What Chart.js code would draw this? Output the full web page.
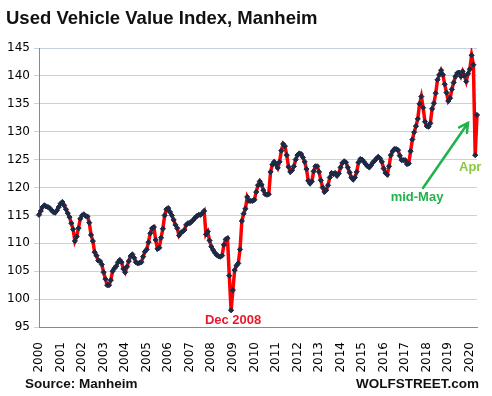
<!DOCTYPE html>
<html>
<head>
<meta charset="utf-8">
<title>Used Vehicle Value Index, Manheim</title>
<script src="https://cdn.jsdelivr.net/npm/chart.js@4.4.1/dist/chart.umd.min.js"></script>
<style>
  html, body { margin: 0; padding: 0; background: #fff; }
  #wrap { width: 492px; height: 396px; }
</style>
</head>
<body>
<div id="wrap"><canvas id="chart" width="492" height="396"></canvas></div>
<script>
  // ---- data ----
  const TITLE = "Used Vehicle Value Index, Manheim";
  const SOURCE = "Source: Manheim";
  const BRAND = "WOLFSTREET.com";

  const years = ["2000", "2001", "2002", "2003", "2004", "2005", "2006", "2007", "2008", "2009",
    "2010", "2011", "2012", "2013", "2014", "2015", "2016", "2017", "2018", "2019", "2020"];

  // monthly index, Jan 2000 .. Apr 2020 (one row per year)
  const monthly = [
    115.1, 115.8, 116.5, 116.8, 116.6, 116.5, 116.3, 115.9, 115.6, 115.5, 115.9, 116.5, // 2000
    117.1, 117.4, 116.8, 116.1, 115.4, 114.7, 113.6, 112.5, 110.4, 111.2, 112.7, 114.4, // 2001
    115.0, 115.2, 114.9, 114.8, 113.7, 111.5, 110.4, 108.4, 107.8, 106.9, 106.8, 106.2, // 2002
    104.8, 103.6, 102.5, 102.5, 103.4, 105.0, 105.5, 105.9, 106.6, 107.0, 106.6, 105.4, // 2003
    104.8, 105.8, 106.8, 107.7, 108.0, 107.4, 106.6, 106.4, 106.5, 106.6, 107.6, 108.5, // 2004
    108.9, 110.2, 111.8, 112.7, 112.9, 110.6, 109.0, 109.2, 111.0, 112.6, 115.0, 116.1, // 2005
    116.3, 115.6, 115.0, 114.2, 113.3, 112.7, 111.4, 111.9, 112.1, 112.4, 113.3, 113.6, // 2006
    113.6, 113.9, 114.2, 114.6, 114.9, 115.1, 115.1, 115.4, 115.8, 111.6, 112.1, 110.5, // 2007
    109.4, 108.8, 108.3, 107.9, 107.7, 107.6, 107.8, 109.7, 110.7, 110.9, 104.2, 98.0,  // 2008
    101.6, 105.2, 106.0, 106.4, 108.9, 114.0, 115.3, 116.2, 118.3, 117.6, 117.6, 117.6, // 2009
    117.8, 119.2, 120.4, 121.1, 120.5, 119.5, 118.8, 118.7, 118.8, 122.8, 124.1, 124.6, // 2010
    124.1, 123.5, 124.6, 126.6, 127.8, 127.4, 125.8, 123.7, 122.8, 123.1, 123.8, 125.0, // 2011
    125.8, 126.1, 126.0, 125.4, 124.6, 123.3, 121.2, 120.7, 121.1, 122.9, 123.8, 123.8, // 2012
    122.8, 121.3, 120.0, 119.2, 119.5, 120.4, 121.8, 122.6, 122.4, 122.6, 122.1, 122.5, // 2013
    123.6, 124.4, 124.7, 124.5, 123.6, 122.7, 121.8, 121.4, 121.8, 122.8, 124.5, 125.1, // 2014
    125.0, 124.6, 124.2, 123.8, 123.6, 124.0, 124.5, 124.8, 125.2, 125.5, 125.2, 124.6, // 2015
    123.4, 122.6, 122.3, 123.8, 125.8, 126.5, 126.9, 126.9, 126.7, 125.7, 124.9, 124.9, // 2016
    124.9, 124.2, 124.3, 126.5, 128.6, 129.9, 131.0, 132.3, 135.0, 136.3, 134.3, 131.8, // 2017
    131.0, 130.9, 131.5, 134.1, 135.1, 136.9, 139.3, 140.2, 141.0, 140.2, 138.5, 137.0, // 2018
    135.5, 136.0, 137.6, 138.8, 139.9, 140.5, 140.6, 139.9, 140.8, 140.0, 139.0, 140.4, // 2019
    141.2, 143.7, 142.0, 125.8                                                          // 2020 Jan-Apr
  ];
  const midMay = 133.0; // mid-May 2020 reading

  const yMin = 95, yMax = 145, yStep = 5;

  // categories: one per month, plus the mid-May point
  const labels = [];
  years.forEach((yr) => { for (let m = 1; m <= 12; m++) labels.push(yr + "-" + String(m).padStart(2, "0")); });
  labels.length = monthly.length;
  labels.push("2020-05-mid");
  const series = monthly.concat([midMay]);

  const RED = "#ff0000", NAVY = "#1b2a47", GRID = "#c6d3e3", AXIS = "#8a8a8a";
  const GREEN = "#22b14c", LIME = "#8cc63f";

  // title, footer and the three callouts, anchored on data points
  const overlay = {
    id: "overlay",
    afterDraw(chart) {
      const { ctx } = chart;
      const xs = chart.scales.x, ys = chart.scales.y;
      const at = (key) => { const i = labels.indexOf(key); return { x: xs.getPixelForValue(i), y: ys.getPixelForValue(series[i]) }; };
      ctx.save();
      ctx.fillStyle = "#111";
      ctx.textBaseline = "alphabetic";
      ctx.textAlign = "left";
      ctx.font = "bold 18.5px 'Liberation Sans', Arial, sans-serif";
      ctx.fillText(TITLE, 6, 24);
      ctx.font = "bold 13.5px 'Liberation Sans', Arial, sans-serif";
      ctx.fillText(SOURCE, 25, 388);
      ctx.textAlign = "right";
      ctx.fillText(BRAND, 479, 388);

      ctx.textAlign = "center";
      ctx.textBaseline = "middle";
      const low = at("2008-12");
      ctx.fillStyle = "#e8192c";
      ctx.font = "bold 13px 'Liberation Sans', Arial, sans-serif";
      ctx.fillText("Dec 2008", low.x + 2, low.y + 10);

      const apr = at("2020-04");
      ctx.fillStyle = LIME;
      ctx.fillText("Apr", apr.x - 5, apr.y + 12);

      const may = at("2020-05-mid");
      ctx.fillStyle = GREEN;
      ctx.fillText("mid-May", may.x - 60, may.y + 82);

      // arrow to the mid-May point
      const tip = { x: may.x - 9, y: may.y + 8 }, tail = { x: may.x - 54, y: may.y + 73 };
      const ang = Math.atan2(tip.y - tail.y, tip.x - tail.x);
      ctx.strokeStyle = GREEN; ctx.lineWidth = 2.5; ctx.lineCap = "round";
      ctx.beginPath();
      ctx.moveTo(tail.x, tail.y); ctx.lineTo(tip.x, tip.y);
      ctx.moveTo(tip.x - 10 * Math.cos(ang - 0.5), tip.y - 10 * Math.sin(ang - 0.5));
      ctx.lineTo(tip.x, tip.y);
      ctx.lineTo(tip.x - 10 * Math.cos(ang + 0.5), tip.y - 10 * Math.sin(ang + 0.5));
      ctx.stroke();
      ctx.restore();
    }
  };

  new Chart(document.getElementById("chart"), {
    type: "line",
    data: {
      labels,
      datasets: [{
        data: series,
        borderColor: RED, borderWidth: 3.5, tension: 0,
        pointStyle: "rectRot", pointRadius: 2.6, pointBorderWidth: 1,
        pointBackgroundColor: NAVY, pointBorderColor: NAVY,
      }],
    },
    options: {
      responsive: false, animation: false,
      layout: { padding: { top: 48, right: 15, bottom: 24, left: 0 } },
      plugins: { legend: { display: false }, tooltip: { enabled: false }, title: { display: false } },
      scales: {
        x: {
          type: "category",
          grid: { display: false },
          border: { display: true, color: AXIS, width: 1 },
          ticks: {
            autoSkip: false, minRotation: 90, maxRotation: 90, padding: 7,
            color: "#000", font: { family: "'DejaVu Sans', sans-serif", size: 12 },
            callback: (v, i) => (i % 12 === 0 ? years[i / 12] : ""),
          },
          afterFit: (s) => { s.height = 45; s.paddingLeft = 0; s.paddingRight = 0; },
        },
        y: {
          min: yMin, max: yMax,
          grid: { color: GRID, lineWidth: 1, tickLength: 5, tickColor: GRID },
          border: { display: true, color: AXIS, width: 1 },
          ticks: {
            stepSize: yStep, padding: 4,
            color: "#000", font: { family: "'DejaVu Sans', sans-serif", size: 12 },
          },
          afterFit: (s) => { s.width = 39; s.paddingTop = 0; s.paddingBottom = 0; },
        },
      },
    },
    plugins: [overlay],
  });
</script>
</body>
</html>
